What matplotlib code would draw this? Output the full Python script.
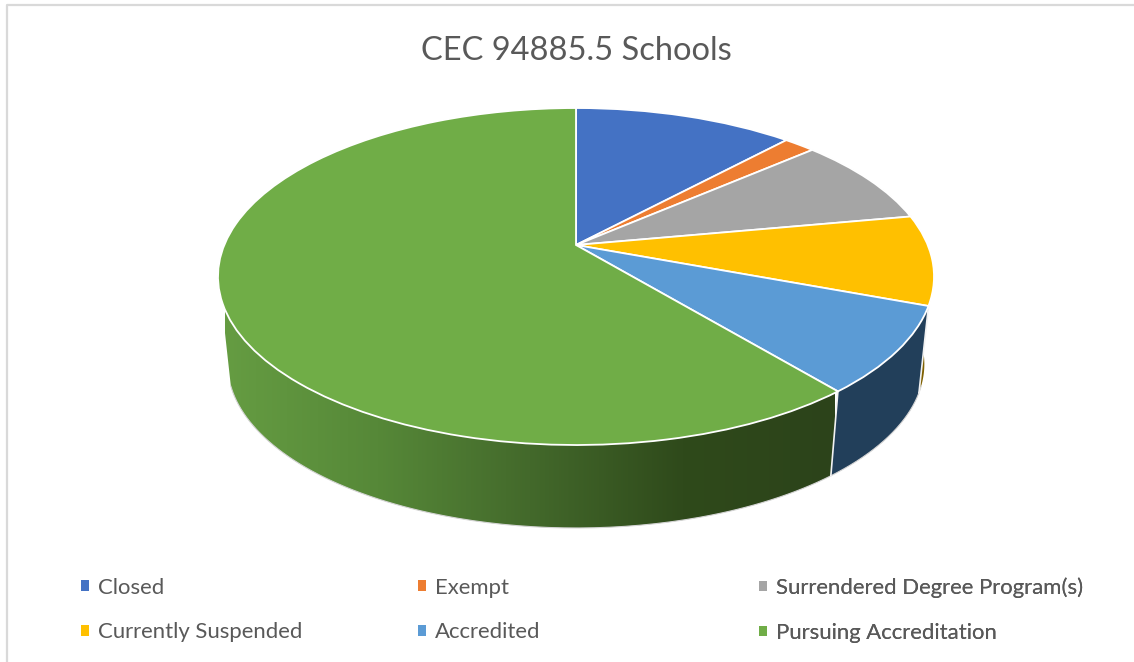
import numpy as np
import matplotlib
matplotlib.use("Agg")
import matplotlib.pyplot as plt
from matplotlib.patches import Polygon, Patch
from matplotlib.transforms import Transform
from matplotlib.colors import LinearSegmentedColormap

title = "CEC 94885.5 Schools"
categories = ["Closed", "Exempt", "Surrendered Degree Program(s)",
              "Currently Suspended", "Accredited", "Pursuing Accreditation"]
values = [11.9, 1.7, 8.5, 8.6, 8.3, 61.0]
colors = ["#4472C4", "#ED7D31", "#A5A5A5", "#FFC000", "#5B9BD5", "#70AD47"]
wall_colors = ["#203864", "#843C0C", "#525252", "#7F6000", "#223F5A", "#70AD47"]
legend_columns = [[0, 3], [1, 4], [2, 5]]

CX, CY, A, B, D = 576.0, 245.0, 351.7, 162.6, 0.187
SHRINK, DROP = 0.973, 95.0
SILHOUETTE = -np.pi + 0.32  # angle at which the left wall edge leaves the rim


class Perspective(Transform):
    input_dims = output_dims = 2
    is_separable = False
    has_inverse = False

    def transform_non_affine(self, pts):
        pts = np.asarray(pts, float)
        w = 1 + D * pts[:, 1]
        return np.column_stack([CX + A * pts[:, 0] / w, CY - B * pts[:, 1] / w])


persp = Perspective()


def rim(theta):
    return persp.transform_non_affine(np.column_stack([np.cos(theta), np.sin(theta)]))


def floor(pts):
    return np.column_stack([CX + SHRINK * (pts[:, 0] - CX), SHRINK * pts[:, 1] + DROP])


fig = plt.figure(figsize=(11.34, 6.62), dpi=100)
plt.rcParams["font.family"] = ["Lato", "DejaVu Sans"]
ax = fig.add_axes([0, 0, 1, 1])

wedges, _ = ax.pie(values, colors=colors, startangle=90, counterclock=False,
                   wedgeprops=dict(transform=persp + ax.transData,
                                   edgecolor="white", linewidth=1.3))
for w in wedges:
    w.set_zorder(5)

# side wall
fracs = np.cumsum([0] + values) / sum(values)
angles = np.pi / 2 - 2 * np.pi * fracs
green_cmap = LinearSegmentedColormap.from_list(
    "wall", [(0, "#659C42"), (0.25, "#568838"), (0.5, "#43692B"),
             (0.75, "#2F4A1B"), (1, "#2C431A")])
for i, col in enumerate(wall_colors):
    t0, t1 = angles[i], angles[i + 1]
    last = i == len(values) - 1
    if last:
        t1 = SILHOUETTE  # only the front part of the last slice can show
    t = np.linspace(t0, t1, 160)
    top = rim(t)
    bot = floor(top)
    poly = np.vstack([top, bot[::-1]])
    if last:
        patch = Polygon(poly, closed=True, facecolor="none", edgecolor="none", zorder=1)
        ax.add_patch(patch)
        im = ax.imshow(np.linspace(0, 1, 256)[None, :], cmap=green_cmap, aspect="auto",
                       extent=(225, 835, 540, 200), zorder=1)
        im.set_clip_path(patch)
    else:
        ax.add_patch(Polygon(poly, closed=True, facecolor=col, edgecolor="none", zorder=1))
    sel = np.sin(t) < -0.31
    ax.plot(bot[sel, 0], bot[sel, 1], color="#D4D4D4", lw=0.8, zorder=2)

for th in angles[:-1]:
    a = rim(np.array([th]))
    b = floor(a)
    ax.plot([a[0, 0], b[0, 0]], [a[0, 1], b[0, 1]], color="#F2F2F2", lw=1.2, zorder=3)

ax.set_aspect("auto")
ax.set_xlim(0, 1134)
ax.set_ylim(662, 0)
ax.set_xticks([])
ax.set_yticks([])
ax.set_frame_on(False)

# chart border
ax.plot([7, 7, 1134], [662, 5, 5], color="#D9D9D9", lw=1.6, zorder=0)

ax.text(576, 51, title, ha="center", va="center", color="#595959", fontsize=23.5)

# legend: one block per column so that the columns sit where they do in the chart
for col, x0 in zip(legend_columns, [81, 418, 759]):
    handles = [Patch(facecolor=colors[i], edgecolor="none") for i in col]
    leg = ax.legend(handles, [categories[i] for i in col], loc="upper left",
                    bbox_to_anchor=(x0, 577.5), bbox_transform=ax.transData,
                    frameon=False, fontsize=15.9, labelcolor="#595959",
                    handlelength=0.36, handleheight=0.36, handletextpad=0.42,
                    labelspacing=1.12, borderpad=0, borderaxespad=0)
    ax.add_artist(leg)

fig.savefig("out.png", dpi=100)
